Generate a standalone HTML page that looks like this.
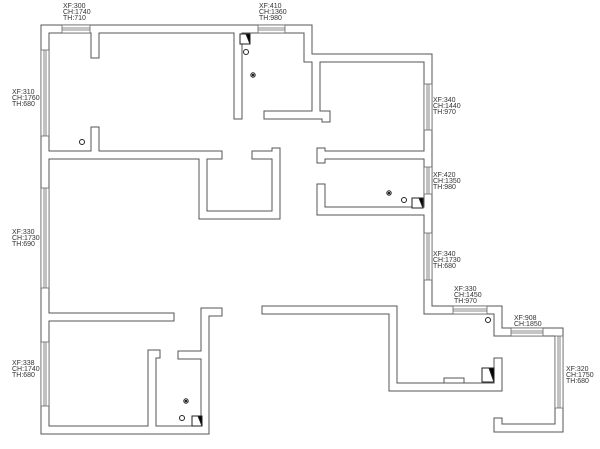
<!DOCTYPE html>
<html><head><style>
html,body{margin:0;padding:0;background:#fff;}
svg{display:block;}
text{font-family:"Liberation Sans",sans-serif;font-size:7px;fill:#333;}
</style></head><body>
<svg width="600" height="449" viewBox="0 0 600 449" xmlns="http://www.w3.org/2000/svg">
<defs>
<g id="w">
<path d="M45,29 H308 V58 H428 V310 H498 V332 H559 V428 H498 M45,29 V430 H205 V312 H218"/>
<path d="M49,155 H218 M95,131 V155 M95,33 V54"/>
<path d="M203,155 V215 H276 V152 M256,155 H276"/>
<path d="M238,33 V115"/>
<path d="M316,62 V115 H268 M316,115 H326 V118"/>
<path d="M321,155 H424 M321,152 V159"/>
<path d="M321,188 V211 H424"/>
<path d="M49,317 H170"/>
<path d="M266,310 H393 V387 H498 V362"/>
<path d="M152,426 V354 H156 M182,355 H201"/>
<path d="M498,428 V422"/>
</g>
</defs>
<g fill="none" stroke="#555" stroke-width="9" stroke-linecap="square" stroke-linejoin="miter">
<use href="#w"/>
</g>
<g fill="none" stroke="#fff" stroke-width="7" stroke-linecap="square" stroke-linejoin="miter">
<use href="#w"/>
</g>
<rect x="444" y="378" width="20" height="5" fill="#fff" stroke="#555"/>
<g fill="#fff" stroke="#666" stroke-width="0.8">
<rect x="62" y="25" width="28" height="8"/><path d="M62,28 H90 M62,30 H90"/>
<rect x="258" y="25" width="27" height="8"/><path d="M258,28 H285 M258,30 H285"/>
<rect x="41" y="50" width="8" height="86"/><path d="M44,50 V136 M46,50 V136"/>
<rect x="41" y="188" width="8" height="100"/><path d="M44,188 V288 M46,188 V288"/>
<rect x="41" y="342" width="8" height="64"/><path d="M44,342 V406 M46,342 V406"/>
<rect x="424" y="84" width="8" height="46"/><path d="M427,84 V130 M429,84 V130"/>
<rect x="424" y="167" width="8" height="27"/><path d="M427,167 V194 M429,167 V194"/>
<rect x="424" y="233" width="8" height="47"/><path d="M427,233 V280 M429,233 V280"/>
<rect x="453" y="306" width="34" height="8"/><path d="M453,309 H487 M453,311 H487"/>
<rect x="511" y="328" width="32" height="8"/><path d="M511,331 H543 M511,333 H543"/>
<rect x="555" y="336" width="8" height="72"/><path d="M558,336 V408 M560,336 V408"/>
</g>
<g stroke="#222" fill="#fff" stroke-width="1">
<rect x="240" y="34" width="10" height="10"/><path d="M246,34 L250,34 L250,44 Z" fill="#000"/>
<rect x="412" y="198" width="11" height="10"/><path d="M419,198 L423,198 L423,208 Z" fill="#000"/>
<rect x="192" y="416" width="10" height="10"/><path d="M198,416 L202,416 L202,426 Z" fill="#000"/>
<rect x="482" y="368" width="12" height="14"/><path d="M489,368 L494,368 L494,382 Z" fill="#000"/>
<circle cx="246" cy="52" r="2.5"/><circle cx="82" cy="142" r="2.5"/>
<circle cx="404" cy="200" r="2.5"/><circle cx="182" cy="418" r="2.5"/>
<circle cx="488" cy="320" r="2.5"/>
<circle cx="253" cy="75" r="2.2"/><circle cx="253" cy="75" r="0.8" fill="#000"/>
<circle cx="389" cy="193" r="2.2"/><circle cx="389" cy="193" r="0.8" fill="#000"/>
<circle cx="186" cy="401" r="2.2"/><circle cx="186" cy="401" r="0.8" fill="#000"/>
</g>
<text x="63" y="8">XF:300</text><text x="63" y="14">CH:1740</text><text x="63" y="20">TH:710</text>
<text x="259" y="8">XF:410</text><text x="259" y="14">CH:1360</text><text x="259" y="20">TH:980</text>
<text x="12" y="94">XF:310</text><text x="12" y="100">CH:1760</text><text x="12" y="106">TH:680</text>
<text x="12" y="234">XF:330</text><text x="12" y="240">CH:1730</text><text x="12" y="246">TH:690</text>
<text x="12" y="365">XF:338</text><text x="12" y="371">CH:1740</text><text x="12" y="377">TH:680</text>
<text x="433" y="102">XF:340</text><text x="433" y="108">CH:1440</text><text x="433" y="114">TH:970</text>
<text x="433" y="177">XF:420</text><text x="433" y="183">CH:1350</text><text x="433" y="189">TH:980</text>
<text x="433" y="256">XF:340</text><text x="433" y="262">CH:1730</text><text x="433" y="268">TH:680</text>
<text x="454" y="291">XF:330</text><text x="454" y="297">CH:1450</text><text x="454" y="303">TH:970</text>
<text x="514" y="320">XF:908</text><text x="514" y="326">CH:1850</text>
<text x="566" y="371">XF:320</text><text x="566" y="377">CH:1750</text><text x="566" y="383">TH:680</text>
</svg>
</body></html>
